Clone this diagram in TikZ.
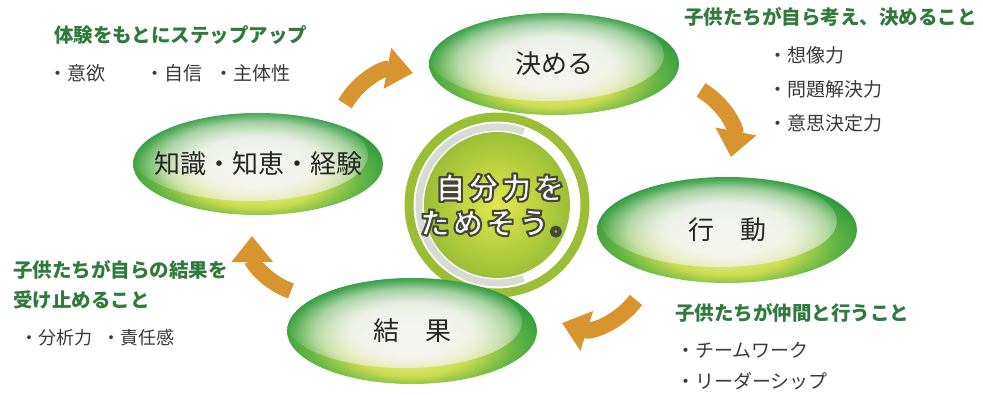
\documentclass[tikz,border=0pt]{standalone}
\usepackage{fontspec}
\usetikzlibrary{shapes.geometric,arrows.meta,fadings}
\newfontfamily\jp{Noto Sans CJK JP}
\newfontfamily\jpwide[LetterSpace=10]{Noto Sans CJK JP}
\definecolor{leafgreen}{HTML}{2E9A3C}
\definecolor{leafmid}{HTML}{62B444}
\definecolor{leafyellow}{HTML}{CCDC50}
\definecolor{leafpale}{HTML}{E6EC9A}
\definecolor{headgreen}{HTML}{2F7A3C}
\definecolor{bodygray}{HTML}{3A3A3A}
\definecolor{turnorange}{HTML}{D8942E}
\definecolor{corelime}{HTML}{9CBE36}
\definecolor{coreyellow}{HTML}{E0E84C}
\definecolor{ringgray}{HTML}{D8DBD2}
\pgfdeclareradialshading{leafshade}{\pgfpoint{0bp}{-12bp}}{color(0bp)=(leafpale); color(12bp)=(leafyellow); color(21bp)=(leafmid); color(28bp)=(leafgreen); color(50bp)=(leafgreen)}
\pgfdeclareradialshading{glowshade}{\pgfpointorigin}{color(0bp)=(pgftransparent!0); color(12bp)=(pgftransparent!8); color(19bp)=(pgftransparent!45); color(23bp)=(pgftransparent!85); color(25bp)=(pgftransparent!100); color(50bp)=(pgftransparent!100)}
\pgfdeclarefading{glow}{\pgfuseshading{glowshade}}
\newcommand\inkline[1]{\special{pdf:literal direct 1 j 2.1 w 0.28 0.28 0.22 RG 2 Tr}#1\special{pdf:literal direct 0 Tr}}
\begin{document}
\begin{tikzpicture}[x=1pt,y=-1pt,
  leaf/.style={ellipse, shade, shading=leafshade, minimum width=250pt, minimum height=102pt, inner sep=0pt, text=black!85, font=\jp\fontsize{26}{30}\selectfont,
    path picture={\fill[white!96!black, path fading=glow] ([xshift=-8pt,yshift=9pt]path picture bounding box.center) ellipse (118pt and 46pt);}},
  head/.style={anchor=west, inner sep=0pt, text=headgreen, font=\jp\bfseries\fontsize{19.5}{22}\selectfont},
  item/.style={anchor=west, inner sep=0pt, text=bodygray, font=\jp\fontsize{19}{22}\selectfont},
  turn/.style={draw=turnorange, line width=16pt, -{Triangle[length=26pt,width=40pt]}, bend left=35}]
\path[use as bounding box, fill=white] (0,0) rectangle (983,394);

\coordinate (core) at (497,205);
\draw[corelime, line width=9pt] (core) circle (88pt);
\draw[ringgray, line width=7pt] ([shift={(70:78pt)}]core) arc (70:290:78pt);
\node[circle, minimum size=146pt, inner sep=0pt, shade, inner color=coreyellow, outer color=corelime] (disk) at (core) {};
\node[align=center, text=white, font=\jpwide\bfseries\fontsize{30}{35}\selectfont] (slogan) at ([xshift=3pt]core)
  {\inkline{自分力を}\\\inkline{ためそう。}};

\node[leaf] (decide) at (554,64) {\makebox[0pt]{決める}};
\node[leaf] (learn) at (258,164) {\makebox[0pt]{知識・知恵・経験}};
\node[leaf, minimum width=260pt, minimum height=106pt] (act) at (727,230) {\makebox[0pt]{行　動}};
\node[leaf, minimum height=106pt] (result) at (412,331) {\makebox[0pt]{結　果}};

\coordinate (a1) at (345,104); \coordinate (b1) at (413,73);
\coordinate (a2) at (701,90); \coordinate (b2) at (731,157);
\coordinate (a3) at (636,300); \coordinate (b3) at (562,323);
\coordinate (a4) at (291,291); \coordinate (b4) at (252,236);
\draw[turn] (a1) to (b1);
\draw[turn] (a2) to (b2);
\draw[turn] (a3) to (b3);
\draw[turn] (a4) to (b4);

\node[head] (step) at (54,35) {体験をもとにステップアップ};
\node[item] (step-i) at (48,73) {・意欲\hspace{40pt}・自信\hspace{12pt}・主体性};
\node[head] (think) at (684,17) {子供たちが自ら考え、決めること};
\node[item] (think-i1) at (768,55) {・想像力};
\node[item] (think-i2) at (768,89) {・問題解決力};
\node[item] (think-i3) at (768,123) {・意思決定力};
\node[head] (accept1) at (13,270) {子供たちが自らの結果を};
\node[head] (accept2) at (13,300) {受け止めること};
\node[item, font=\jp\fontsize{18}{22}\selectfont] (accept-i) at (20,338) {・分析力\hspace{10pt}・責任感};
\node[head] (team) at (675,313) {子供たちが仲間と行うこと};
\node[item] (team-i1) at (676,350) {・チームワーク};
\node[item] (team-i2) at (676,381) {・リーダーシップ};
\end{tikzpicture}
\end{document}
